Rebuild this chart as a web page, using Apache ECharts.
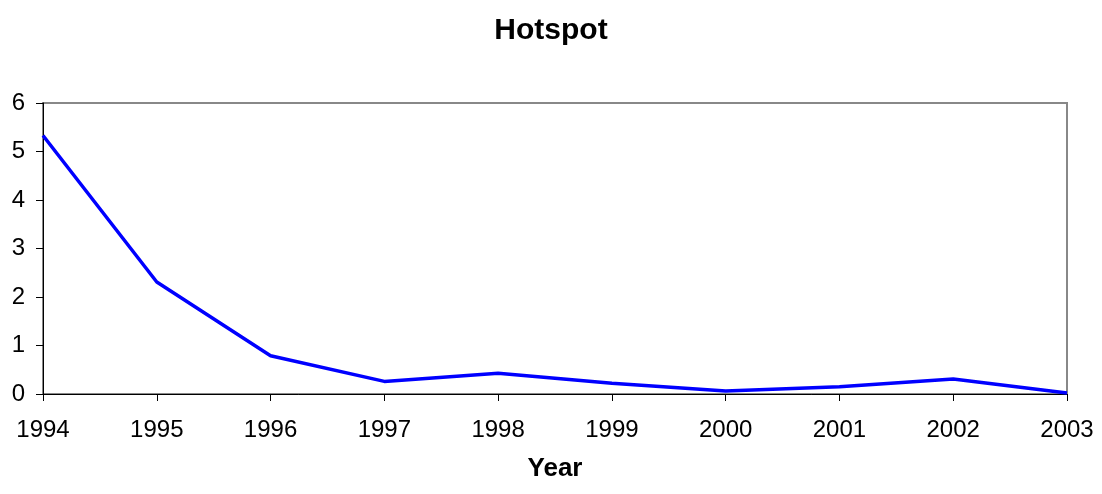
<!DOCTYPE html>
<html>
<head>
<meta charset="utf-8">
<script src="https://cdn.jsdelivr.net/npm/echarts@6/dist/echarts.min.js"></script>
<style>
  html, body { margin: 0; padding: 0; background: #fff; }
  #chart { width: 1102px; height: 494px; }
</style>
</head>
<body>
<div id="chart"></div>
<script>
// Chart data
const years = ['1994', '1995', '1996', '1997', '1998', '1999', '2000', '2001', '2002', '2003'];
const hotspot = [5.33, 2.31, 0.79, 0.26, 0.43, 0.22, 0.06, 0.15, 0.31, 0.02];

const chart = echarts.init(document.getElementById('chart'));
const font = 'Liberation Sans, Arial, sans-serif';

chart.setOption({
    animation: false,
    title: {
        text: 'Hotspot',
        left: 'center',
        top: 11,
        textStyle: { fontFamily: font, fontSize: 30, fontWeight: 'bold', color: '#000' }
    },
    grid: {
        left: 43, right: 35, top: 103, bottom: 100,
        outerBoundsMode: 'none',
        containLabel: false,
        show: true, borderColor: '#888888', borderWidth: 2
    },
    xAxis: {
        type: 'category',
        data: years,
        boundaryGap: false,
        name: 'Year',
        nameLocation: 'middle',
        nameGap: 62,
        nameTextStyle: { fontFamily: font, fontSize: 26, fontWeight: 'bold', color: '#000' },
        axisLine: { lineStyle: { color: '#000', width: 1 } },
        axisTick: { alignWithLabel: true, length: 7, lineStyle: { color: '#000' } },
        axisLabel: { fontFamily: font, fontSize: 24, color: '#000', margin: 24 },
        splitLine: { show: false }
    },
    yAxis: {
        type: 'value',
        min: 0, max: 6, interval: 1,
        axisLine: { show: true, lineStyle: { color: '#000', width: 1 } },
        axisTick: { show: true, length: 7, lineStyle: { color: '#000' } },
        axisLabel: { fontFamily: font, fontSize: 24, color: '#000', margin: 18 },
        splitLine: { show: false }
    },
    series: [{
        type: 'line',
        data: hotspot,
        symbol: 'none',
        lineStyle: { color: '#0000ff', width: 3.5 }
    }]
});
</script>
</body>
</html>
